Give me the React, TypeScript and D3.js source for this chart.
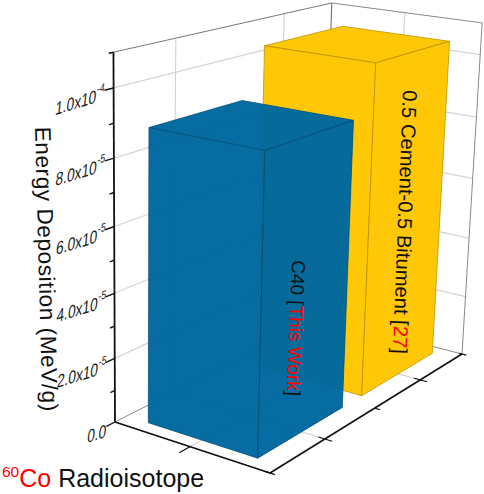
import React from 'react';
import * as d3 from 'd3';

// --- Data ---
const categories = ['C40', '0.5 Cement-0.5 Bitument'];
const energyDeposition = [8.9e-5, 1.04e-4];
const barColors = ['#00689f', '#ffc600'];
const majorTicks = [0, 2e-5, 4e-5, 6e-5, 8e-5, 1e-4];
const minorTicks = [1e-5, 3e-5, 5e-5, 7e-5, 9e-5, 1.1e-4];
const tickLabels = [
  ['0.0', ''],
  ['2.0x10', '-5'],
  ['4.0x10', '-5'],
  ['6.0x10', '-5'],
  ['8.0x10', '-5'],
  ['1.0x10', '-4'],
];

const WIDTH = 484;
const HEIGHT = 494;
const FONT = '"Liberation Sans", Arial, sans-serif';

// --- Perspective of the box: front floor corner plus the three axis ends, with a weight per axis ---
const origin = [270, 473];
const endX = [115, 422];
const endY = [462, 354];
const endZ = [280, 80];
const wX = 1.068;
const wY = 1.199;
const wZ = 0.93;

type P = [number, number];
const project = (tx: number, ty: number, tz: number): P => {
  const d = 1 + (wX - 1) * tx + (wY - 1) * ty + (wZ - 1) * tz;
  const at = (i: number) =>
    (origin[i] +
      (wX * endX[i] - origin[i]) * tx +
      (wY * endY[i] - origin[i]) * ty +
      (wZ * endZ[i] - origin[i]) * tz) /
    d;
  return [at(0), at(1)];
};

// --- Scales ---
const zScale = d3.scaleLinear().domain([0, 1.1e-4]).range([0, 1]);
const yBand = d3.scaleBand<string>().domain(categories).range([0, 1]).paddingInner(0.2).paddingOuter(0.1);
const xBand = d3.scaleBand<string>().domain(['60Co']).range([0, 1]).padding(0.17);

const line = d3.line<P>();
const seg = (a: P, b: P) => line([a, b]) as string;
const poly = (pts: P[]) => (line(pts) as string) + 'Z';

const App = () => {
  const x0 = xBand('60Co') as number;
  const x1 = x0 + xBand.bandwidth();

  const bars = categories
    .map((c, i) => {
      const y0 = yBand(c) as number;
      const y1 = y0 + yBand.bandwidth();
      const z = zScale(energyDeposition[i]);
      const c000 = project(x0, y0, 0);
      const c100 = project(x1, y0, 0);
      const c010 = project(x0, y1, 0);
      const c110 = project(x1, y1, 0);
      const c001 = project(x0, y0, z);
      const c101 = project(x1, y0, z);
      const c011 = project(x0, y1, z);
      const c111 = project(x1, y1, z);
      return {
        c,
        color: barColors[i],
        hidden: [
          [c110, c100, c000, c010],
          [c100, c110, c111, c101],
          [c010, c110, c111, c011],
        ] as P[][],
        visible: [
          [c001, c101, c111, c011],
          [c000, c100, c101, c001],
          [c000, c010, c011, c001],
        ] as P[][],
      };
    })
    .reverse();

  const gridColor = '#d4d4d4';
  const floorTicks = [0.25, 0.75];

  return (
    <svg
      width={WIDTH}
      height={HEIGHT}
      style={{ position: 'absolute', left: 0, top: 0, display: 'block', background: '#fff' }}
    >
      {/* wall grid */}
      <g stroke={gridColor} strokeWidth={1.2} fill="none">
        {majorTicks.slice(1).map((t) => (
          <g key={t}>
            <path d={seg(project(1, 0, zScale(t)), project(1, 1, zScale(t)))} />
            <path d={seg(project(1, 1, zScale(t)), project(0, 1, zScale(t)))} />
          </g>
        ))}
        {floorTicks.map((t) => (
          <g key={t}>
            <path d={seg(project(1, t, 0), project(1, t, 1))} />
            <path d={seg(project(0, t, 0), project(1, t, 0))} />
          </g>
        ))}
        <path d={seg(project(0.5, 1, 0), project(0.5, 1, 1))} />
        <path d={seg(project(0.5, 0, 0), project(0.5, 1, 0))} />
      </g>

      {/* box outline */}
      <g fill="none">
        <path d={seg(project(1, 0, 1), project(1, 1, 1))} stroke="#777" strokeWidth={1} />
        <path d={seg(project(1, 1, 1), project(0, 1, 1))} stroke="#888" strokeWidth={1} />
        <path d={seg(project(1, 1, 0), project(1, 1, 1))} stroke="#666" strokeWidth={1} />
        <path d={seg(project(0, 1, 0), project(0, 1, 1))} stroke="#888" strokeWidth={1} />
        <path d={seg(project(1, 1, 0), project(0, 1, 0))} stroke="#888" strokeWidth={1} />
        <path d={seg(project(1, 1, 0), project(1, 0, 0))} stroke="#888" strokeWidth={1} />
      </g>

      {/* bars */}
      {bars.map((b) => (
        <g key={b.c}>
          {b.hidden.map((f, i) => (
            <path key={i} d={poly(f)} fill={b.color} fillOpacity={0.5} />
          ))}
          {b.visible.map((f, i) => (
            <path
              key={i}
              d={poly(f)}
              fill={b.color}
              fillOpacity={0.95}
              stroke={d3.color(b.color)!.darker(1.2).formatHex()}
              strokeWidth={0.6}
            />
          ))}
        </g>
      ))}

      {/* axes */}
      <g stroke="#111" fill="none">
        <path d={seg(project(1, 0, 0), project(1, 0, 1))} strokeWidth={1.8} />
        <path d={seg(project(1, 0, 0), project(0, 0, 0))} strokeWidth={1.8} />
        <path d={seg(project(0, 0, 0), project(0, 1, 0))} strokeWidth={1.6} />
        {majorTicks.map((t) => (
          <path key={t} d={seg(project(1, 0, zScale(t)), project(1, -0.035, zScale(t)))} strokeWidth={1.4} />
        ))}
        {minorTicks.map((t) => (
          <path key={t} d={seg(project(1, 0, zScale(t)), project(1, -0.018, zScale(t)))} strokeWidth={1.4} />
        ))}
        {floorTicks.map((t) => (
          <path key={t} d={seg(project(-0.045, t, 0), project(0.04, t, 0))} strokeWidth={1.2} />
        ))}
        <path d={seg(project(-0.035, 0.5, 0), project(0, 0.5, 0))} strokeWidth={1.2} />
        <path d={seg(project(-0.03, 0, 0), project(0.03, 0, 0))} strokeWidth={1.2} />
        <path d={seg(project(-0.03, 1, 0), project(0.02, 1, 0))} strokeWidth={1.2} />
        <path d={seg(project(0.5, 0, 0), project(0.5, -0.045, 0))} strokeWidth={1.2} />
      </g>

      {/* z tick labels, sheared along the wall */}
      <g fontFamily={FONT} fill="#222" fontSize={18}>
        {majorTicks.map((t, i) => {
          const [px, py] = project(1, -0.05, zScale(t));
          return (
            <text
              key={t}
              textAnchor="end"
              transform={`translate(${px + 3},${py + 9}) skewY(-17) skewX(-6) scale(0.76,1)`}
            >
              {tickLabels[i][0]}
              {tickLabels[i][1] && (
                <tspan fontSize={11.5} dy={-9}>
                  {tickLabels[i][1]}
                </tspan>
              )}
            </text>
          );
        })}
      </g>

      {/* axis titles */}
      <text
        transform="translate(35,127) rotate(88.5)"
        fontFamily={FONT}
        fontSize={22.5}
        letterSpacing={0.6}
        fill="#111"
      >
        Energy Deposition (MeV/g)
      </text>
      <text x={2} y={487} fontFamily={FONT} fontSize={25} fill="#111">
        <tspan fill="#f00" fontSize={15.5} dy={-10}>
          60
        </tspan>
        <tspan fill="#f00" dy={10}>
          Co
        </tspan>
        <tspan> Radioisotope</tspan>
      </text>

      {/* bar labels */}
      <text transform="translate(403,90) rotate(92.2)" fontFamily={FONT} fontSize={20.2} fill="#111">
        {categories[1]} [<tspan fill="#f00">27</tspan>]
      </text>
      <text transform="translate(292,260) rotate(92.2)" fontFamily={FONT} fontSize={19} fill="#111">
        {categories[0]} [<tspan fill="#f00">This Work</tspan>]
      </text>
    </svg>
  );
};

export default App;
